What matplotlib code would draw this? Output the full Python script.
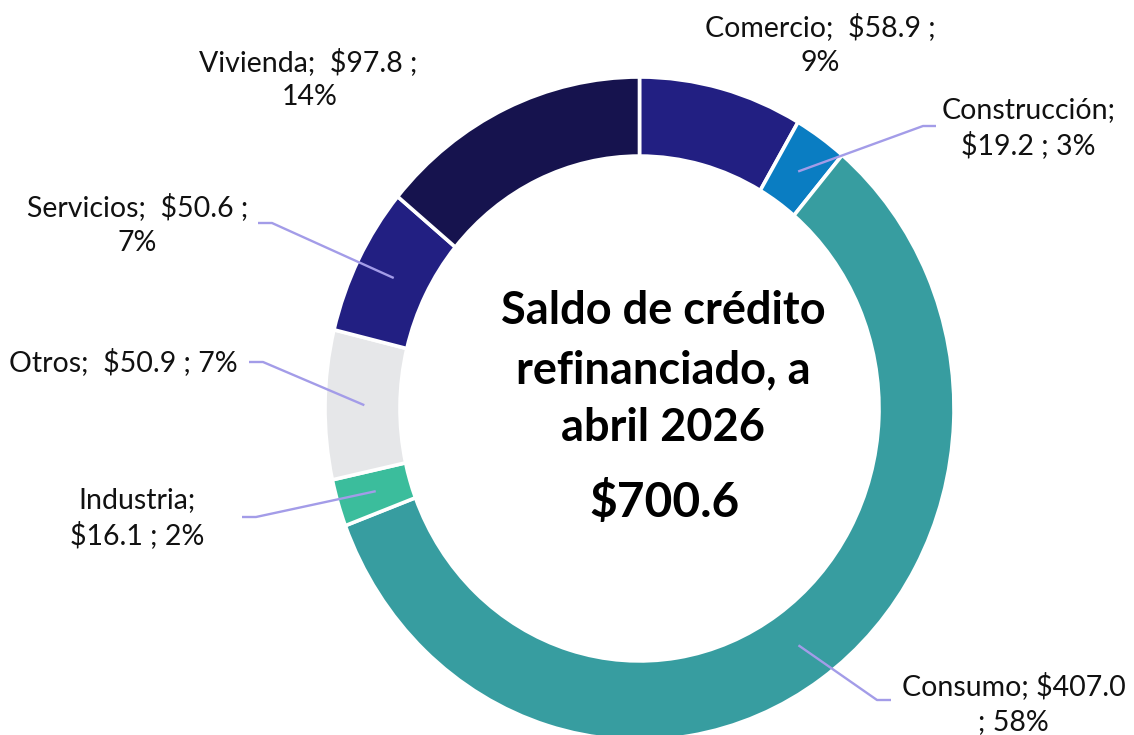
import numpy as np
import matplotlib
matplotlib.use("Agg")
import matplotlib.pyplot as plt

# ---- data ----
categories = ["Comercio", "Construcción", "Consumo", "Industria", "Otros", "Servicios", "Vivienda"]
values = [58.9, 19.2, 407.0, 16.1, 50.9, 50.6, 97.8]
pct_labels = [9, 3, 58, 2, 7, 7, 14]
total_label = "$700.6"
center_title = ["Saldo de crédito", "refinanciado, a", "abril 2026"]
colors = ["#221F82", "#0A7DC2", "#379DA0", "#3BBD9C", "#E6E7E9", "#221F82", "#16134E"]

W, H = 1134, 735
CX, CY, RX, RY = 639.5, 408.5, 314.5, 331.5  # ellipse geometry (pixels)

fig = plt.figure(figsize=(W / 100, H / 100), dpi=100)
ax = fig.add_axes([0, 0, 1, 1])


def p2d(x, y):
    return (x - CX) / RX, (CY - y) / RY


wedges, _ = ax.pie(values, colors=colors, startangle=90, counterclock=False, radius=1,
                   wedgeprops=dict(width=0.2385, edgecolor="white", linewidth=2.6))
ax.set_aspect("auto")
x0, _ = p2d(0, 0)
x1, _ = p2d(W, 0)
_, y0 = p2d(0, H)
_, y1 = p2d(0, 0)
ax.set_xlim(x0, x1)
ax.set_ylim(y0, y1)
ax.set_axis_off()

lbl_font = dict(family="Lato", fontsize=20.5, color="#111111", ha="center", va="center")


def label_lines(i):
    name, v, p = categories[i], values[i], pct_labels[i]
    return name, f"${v:.1f}", f"{p}%"


layouts = {
    "Comercio": dict(lines=lambda n, v, p: [f"{n};  {v} ;", p], pos=[(820, 27), (820, 63)], leader=None),
    "Construcción": dict(lines=lambda n, v, p: [f"{n};", f"{v} ; {p}"], pos=[(1029, 110), (1028, 145)],
                         leader=[(923, 126), (936, 126)]),
    "Consumo": dict(lines=lambda n, v, p: [f"{n}; {v}", f"; {p}"], pos=[(1014, 686), (1013, 722)],
                    leader=[(877, 700), (891, 700)]),
    "Industria": dict(lines=lambda n, v, p: [f"{n};", f"{v} ; {p}"], pos=[(137, 500), (137, 535)],
                      leader=[(256, 517), (242, 517)]),
    "Otros": dict(lines=lambda n, v, p: [f"{n};  {v} ; {p}"], pos=[(123, 362)],
                  leader=[(263, 362), (249, 362)]),
    "Servicios": dict(lines=lambda n, v, p: [f"{n};  {v} ;", p], pos=[(138, 207), (137, 243)],
                      leader=[(272, 223), (258, 223)]),
    "Vivienda": dict(lines=lambda n, v, p: [f"{n};  {v} ;", p], pos=[(308, 62), (310, 97)], leader=None),
}

for i, w in enumerate(wedges):
    n, v, p = label_lines(i)
    lay = layouts[n]
    for txt, (px, py) in zip(lay["lines"](n, v, p), lay["pos"]):
        ax.text(*p2d(px, py), txt, **lbl_font)
    if lay["leader"] is not None:
        mid = np.deg2rad((w.theta1 + w.theta2) / 2)
        r = 0.875
        sx, sy = r * np.cos(mid), r * np.sin(mid)
        pts = [(sx, sy)] + [p2d(*q) for q in lay["leader"]]
        xs, ys = zip(*pts)
        ax.plot(xs, ys, color="#A39CE8", lw=1.7, solid_capstyle="butt", zorder=5)

# center text
for txt, py in zip(center_title, [311, 370, 428]):
    ax.text(*p2d(663, py), txt, family="Lato", fontweight="bold", fontsize=32.5,
            ha="center", va="center", color="black")
ax.text(*p2d(665, 503), total_label, family="Lato", fontweight="bold", fontsize=34.5,
        ha="center", va="center", color="black")

fig.savefig("out.png", dpi=100, facecolor="white")
